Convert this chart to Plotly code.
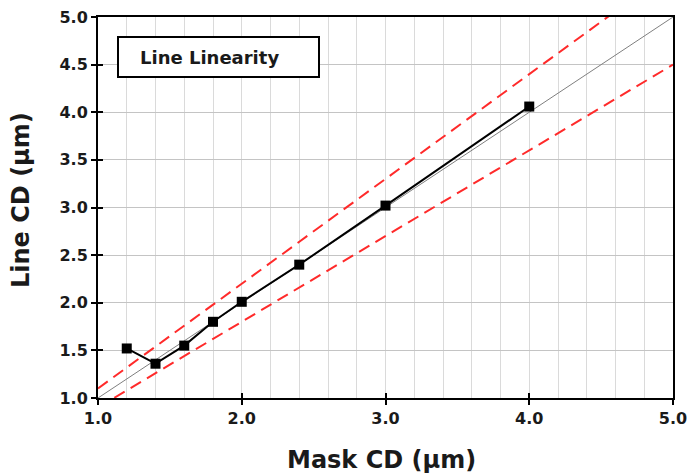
import plotly.graph_objects as go

mask_cd = [1.2, 1.4, 1.6, 1.8, 2.0, 2.4, 3.0, 4.0]
line_cd = [1.52, 1.36, 1.55, 1.80, 2.01, 2.40, 3.02, 4.06]

ref_x = [1.0, 5.0]
upper_factor = 1.1
lower_factor = 0.9

FONT = "DejaVu Sans"
TXT = "#1a1a1a"

L, R, T, B = 98, 17, 17, 78
W, H = 690, 476
PW, PH = W - L - R, H - T - B


def px_x(p):
    return (p - L) / PW


def px_y(p):
    return 1 - (p - T) / PH


fig = go.Figure()

fig.add_trace(go.Scatter(x=ref_x, y=ref_x, mode="lines",
                         line=dict(color="#7f7f7f", width=1), showlegend=False))
fig.add_trace(go.Scatter(x=ref_x, y=[v * upper_factor for v in ref_x], mode="lines",
                         line=dict(color="#ff2a2a", width=2, dash="12px,7px"), showlegend=False))
fig.add_trace(go.Scatter(x=ref_x, y=[v * lower_factor for v in ref_x], mode="lines",
                         line=dict(color="#ff2a2a", width=2, dash="12px,7px"), showlegend=False))
fig.add_trace(go.Scatter(x=mask_cd, y=line_cd, mode="lines+markers",
                         line=dict(color="black", width=2),
                         marker=dict(symbol="square", size=10, color="black"),
                         showlegend=False))
fig.add_trace(go.Scatter(x=ref_x, y=ref_x, mode="lines", line=dict(width=0),
                         xaxis="x2", yaxis="y2", showlegend=False, hoverinfo="skip",
                         opacity=0))

tickfont = dict(family=FONT, size=16, color=TXT, weight="bold")

fig.update_layout(
    width=W, height=H,
    margin=dict(l=L, r=R, t=T, b=B, autoexpand=False),
    paper_bgcolor="white", plot_bgcolor="white",
    font=dict(family=FONT, color=TXT),
    xaxis=dict(range=[1, 5], dtick=1, tick0=1, tickformat=".1f", automargin=False,
               showgrid=True, gridcolor="#dadada", gridwidth=1.3,
               minor=dict(dtick=0.2, showgrid=True, gridcolor="#dadada", gridwidth=1.3),
               showline=True, linecolor="black", linewidth=2, mirror=True,
               ticks="outside", ticklen=5, tickwidth=2, tickcolor="black",
               tickfont=tickfont, zeroline=False),
    yaxis=dict(range=[1, 5], dtick=0.5, tick0=1, tickformat=".1f", automargin=False,
               showgrid=True, gridcolor="#c4c4c4", gridwidth=1.3,
               showline=True, linecolor="black", linewidth=2, mirror=True,
               ticks="outside", ticklen=5, tickwidth=2, tickcolor="black",
               tickfont=tickfont, zeroline=False),
    xaxis2=dict(range=[1, 5], dtick=1, tick0=1, overlaying="x", side="bottom", automargin=False,
                showgrid=False, showticklabels=False, ticks="inside", ticklen=5,
                tickwidth=2, tickcolor="black", zeroline=False, showline=False),
    yaxis2=dict(range=[1, 5], dtick=0.5, tick0=1, overlaying="y", side="left", automargin=False,
                showgrid=False, showticklabels=False, ticks="inside", ticklen=5,
                tickwidth=2, tickcolor="black", zeroline=False, showline=False),
    shapes=[dict(type="rect", xref="paper", yref="paper",
                 x0=px_x(118), x1=px_x(319), y0=px_y(77), y1=px_y(37),
                 line=dict(color="black", width=2), fillcolor="white", layer="above")],
    annotations=[
        dict(text="<b>Line Linearity</b>", xref="paper", yref="paper",
             x=px_x(138), y=px_y(57), xanchor="left", yanchor="middle", showarrow=False,
             font=dict(family=FONT, size=18, color=TXT)),
        dict(text="<b>Mask CD (µm)</b>", xref="paper", yref="paper",
             x=px_x(381), y=px_y(460), xanchor="center", yanchor="middle", showarrow=False,
             font=dict(family=FONT, size=24, color=TXT)),
        dict(text="<b>Line CD (µm)</b>", xref="paper", yref="paper", textangle=-90,
             x=px_x(21), y=px_y(200), xanchor="center", yanchor="middle", showarrow=False,
             font=dict(family=FONT, size=24, color=TXT)),
    ],
)

fig.write_html("out.html")
